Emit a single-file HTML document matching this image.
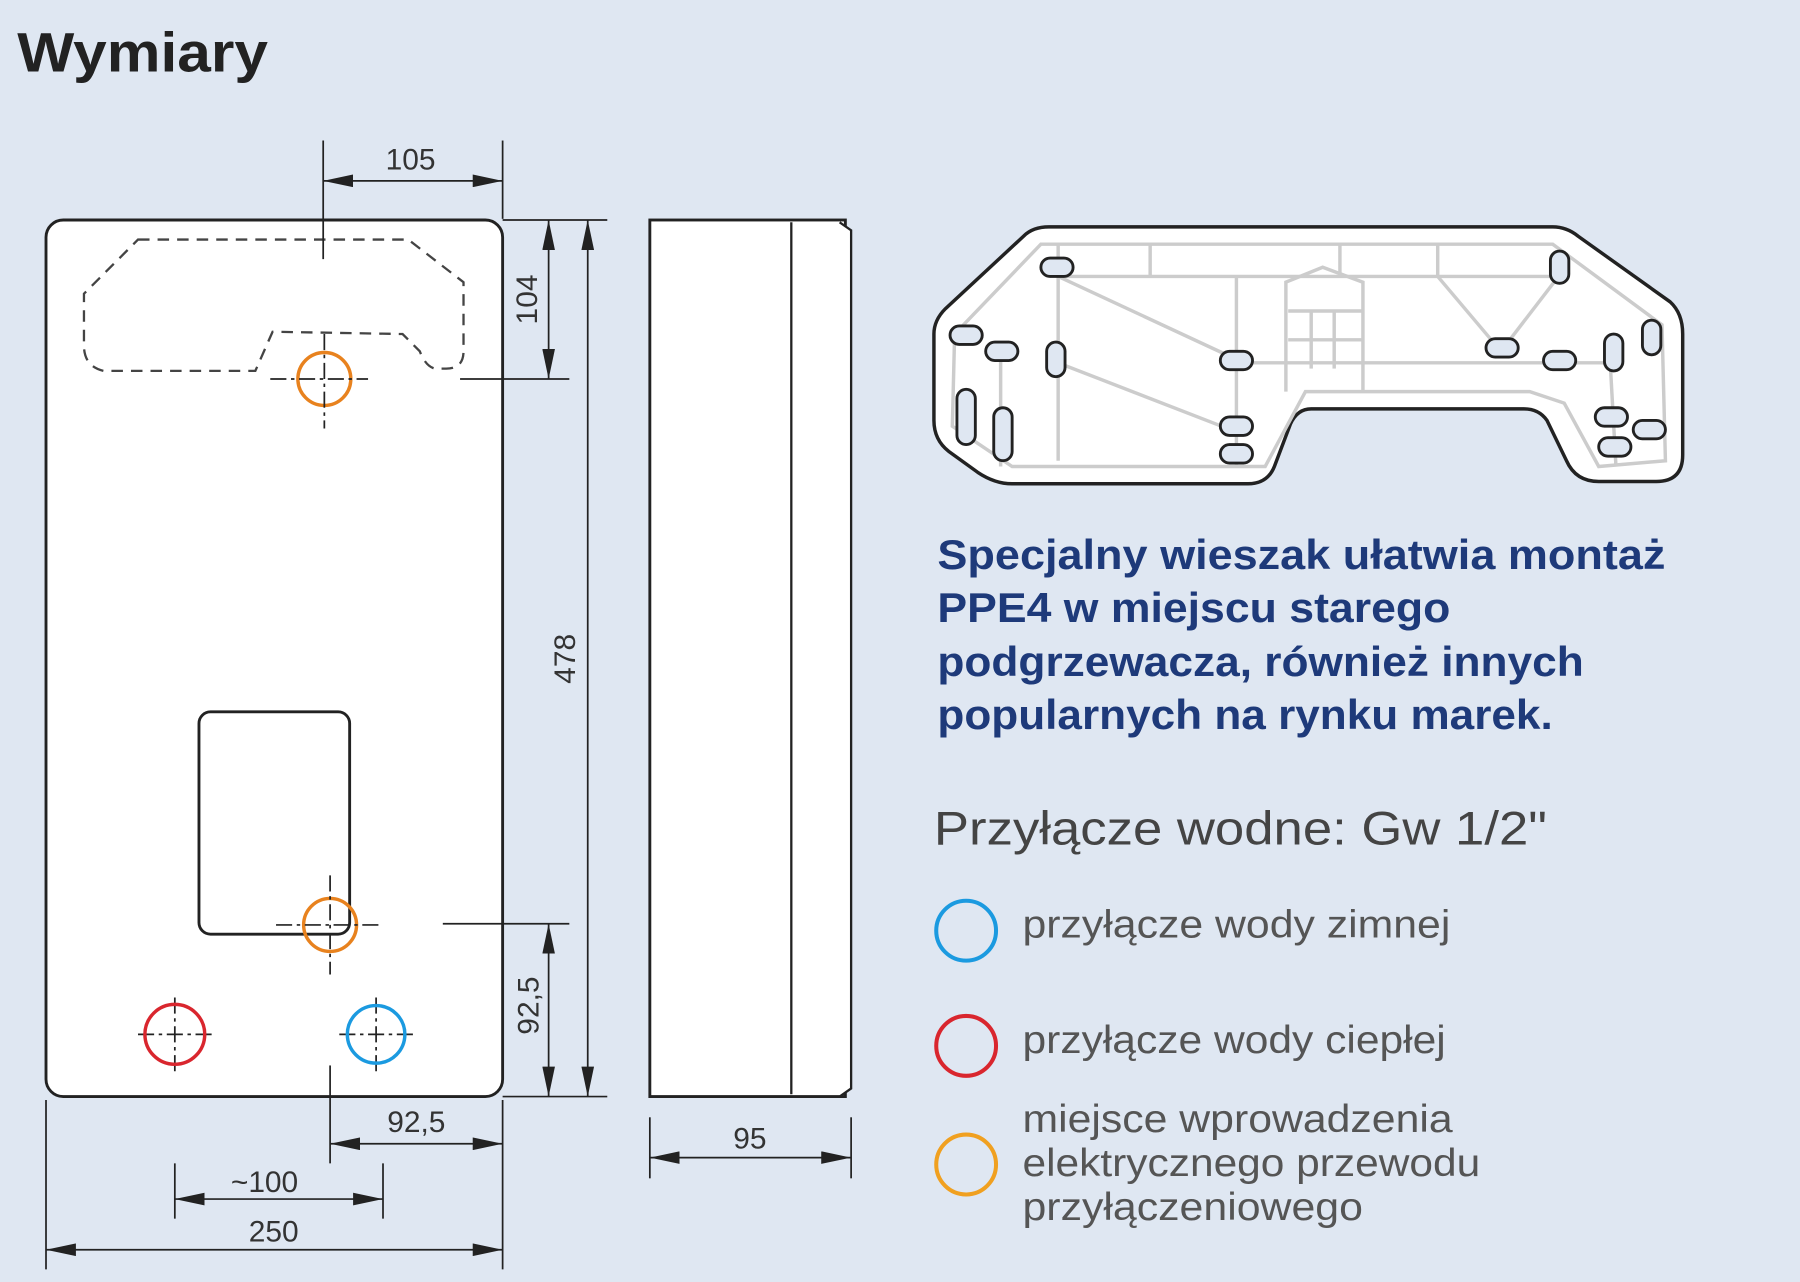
<!DOCTYPE html>
<html><head><meta charset="utf-8"><style>
html,body{margin:0;padding:0;background:#dfe7f2;}
svg{display:block}
text{font-family:"Liberation Sans",sans-serif}
</style></head><body>
<svg width="1800" height="1282" viewBox="0 0 1565 1113" preserveAspectRatio="none" xmlns="http://www.w3.org/2000/svg">
<defs>
<marker id="a" viewBox="0 0 10 10" refX="10" refY="5" markerWidth="26" markerHeight="11" markerUnits="userSpaceOnUse" orient="auto-start-reverse" preserveAspectRatio="none"><path d="M0,0 L10,5 L0,10 z" fill="#222"/></marker>
</defs>
<rect width="1565" height="1113" fill="#dfe7f2"/>
<text x="15" y="62" font-size="48" font-weight="bold" fill="#222" textLength="218" lengthAdjust="spacingAndGlyphs">Wymiary</text>

<rect x="40" y="191" width="397" height="761" rx="15" fill="#fff" stroke="#222" stroke-width="2.5"/>
<path d="M120,208 L355,208 L403,245 L403,305 Q403,320 388,320 L378,320 Q370,318 365,305 L350,290 L237,288 L222,322 L90,322 Q73,318 73,300 L73,255 Z" fill="none" stroke="#444" stroke-width="2" stroke-dasharray="10,7"/>
<circle cx="282" cy="329" r="23" fill="none" stroke="#e8821e" stroke-width="3"/>
<g stroke="#222" stroke-width="1.5">
<line x1="235" y1="329" x2="320" y2="329" stroke-dasharray="14,4,3,4"/>
<line x1="282" y1="290" x2="282" y2="372" stroke-dasharray="14,4,3,4"/>
<line x1="281" y1="122" x2="281" y2="225"/>
<line x1="437" y1="122" x2="437" y2="190"/>
<line x1="281" y1="157" x2="437" y2="157" marker-start="url(#a)" marker-end="url(#a)"/>
<line x1="437" y1="191" x2="528" y2="191"/>
<line x1="400" y1="329" x2="495" y2="329"/>
<line x1="477" y1="191" x2="477" y2="329" marker-start="url(#a)" marker-end="url(#a)"/>
<line x1="511" y1="191" x2="511" y2="952" marker-start="url(#a)" marker-end="url(#a)"/>
<line x1="385" y1="802" x2="495" y2="802"/>
<line x1="477" y1="802" x2="477" y2="952" marker-start="url(#a)" marker-end="url(#a)"/>
<line x1="437" y1="952" x2="528" y2="952"/>
<line x1="287" y1="925" x2="287" y2="1010"/>
<line x1="437" y1="955" x2="437" y2="1102"/>
<line x1="40" y1="955" x2="40" y2="1102"/>
<line x1="152" y1="1010" x2="152" y2="1058"/>
<line x1="333" y1="1010" x2="333" y2="1058"/>
<line x1="287" y1="993" x2="437" y2="993" marker-start="url(#a)" marker-end="url(#a)"/>
<line x1="152" y1="1041" x2="333" y2="1041" marker-start="url(#a)" marker-end="url(#a)"/>
<line x1="40" y1="1085" x2="437" y2="1085" marker-start="url(#a)" marker-end="url(#a)"/>
<line x1="565" y1="970" x2="565" y2="1023"/>
<line x1="740" y1="970" x2="740" y2="1023"/>
<line x1="565" y1="1005" x2="740" y2="1005" marker-start="url(#a)" marker-end="url(#a)"/>
</g>
<g font-size="26" fill="#333" text-anchor="middle">
<text x="357" y="147">105</text>
<text x="362" y="983">92,5</text>
<text x="230" y="1035">~100</text>
<text x="238" y="1078">250</text>
<text x="652" y="997">95</text>
<text transform="translate(467,260) rotate(-90)">104</text>
<text transform="translate(500,572) rotate(-90)">478</text>
<text transform="translate(468,873) rotate(-90)">92,5</text>
</g>
<rect x="173" y="618" width="131" height="193" rx="10" fill="#fff" stroke="#222" stroke-width="2.5"/>
<circle cx="287" cy="803" r="23" fill="none" stroke="#e8821e" stroke-width="3"/>
<g stroke="#222" stroke-width="1.5" stroke-dasharray="14,4,3,4">
<line x1="240" y1="803" x2="330" y2="803"/><line x1="287" y1="760" x2="287" y2="846"/>
<line x1="120" y1="898" x2="185" y2="898"/><line x1="152" y1="866" x2="152" y2="930"/>
<line x1="295" y1="898" x2="360" y2="898"/><line x1="327" y1="866" x2="327" y2="930"/>
</g>
<circle cx="152" cy="898" r="26" fill="none" stroke="#d9262e" stroke-width="3"/>
<circle cx="327" cy="898" r="25" fill="none" stroke="#1b9ae0" stroke-width="3"/>

<rect x="565" y="191" width="170" height="761" fill="#fff" stroke="#222" stroke-width="2.5"/>
<line x1="688" y1="193" x2="688" y2="950" stroke="#222" stroke-width="2"/>
<path d="M730,193 L740,200 L740,945 L730,952" fill="#fff" stroke="#222" stroke-width="2"/>

<path d="M912,197 L1350,197 Q1362,197 1372,205 L1452,262 Q1463,272 1463,290 L1463,395 Q1463,418 1440,418 L1390,418 Q1370,418 1362,400 L1345,365 Q1338,355 1325,355 L1140,355 Q1128,355 1122,368 L1108,405 Q1102,420 1085,420 L880,420 Q865,420 850,410 L825,392 Q812,382 812,365 L812,290 Q812,278 822,268 L890,205 Q898,197 912,197 Z" fill="#fff" stroke="#222" stroke-width="3"/>
<g fill="none" stroke="#ccc" stroke-width="3">
<path d="M830,290 L905,212 L1350,212 L1445,282 L1448,400 L1390,405 L1360,350 L1330,340 L1135,340 L1100,405 L880,405 L828,370 Z"/>
<line x1="920" y1="212" x2="920" y2="400"/><line x1="1075" y1="240" x2="1075" y2="405"/>
<line x1="920" y1="240" x2="1350" y2="240"/><line x1="920" y1="240" x2="1075" y2="312"/>
<line x1="920" y1="315" x2="1075" y2="375"/><line x1="1075" y1="315" x2="1405" y2="315"/>
<line x1="1250" y1="240" x2="1305" y2="305"/><line x1="1355" y1="240" x2="1305" y2="305"/>
<line x1="1000" y1="212" x2="1000" y2="240"/><line x1="1165" y1="212" x2="1165" y2="240"/><line x1="1250" y1="212" x2="1250" y2="240"/>
<path d="M1118,340 L1118,245 L1150,232 L1185,245 L1185,340"/>
<line x1="1120" y1="270" x2="1185" y2="270"/><line x1="1120" y1="295" x2="1185" y2="295"/>
<line x1="1140" y1="270" x2="1140" y2="320"/><line x1="1160" y1="270" x2="1160" y2="320"/>
<line x1="870" y1="300" x2="870" y2="405"/><line x1="1400" y1="315" x2="1405" y2="405"/>
</g>
<g fill="#dfe7f2" stroke="#222" stroke-width="2.5">
<rect x="905" y="224" width="28" height="16" rx="8"/>
<rect x="1348" y="218" width="16" height="28" rx="8"/>
<rect x="826" y="283" width="28" height="16" rx="8"/>
<rect x="857" y="297" width="28" height="16" rx="8"/>
<rect x="910" y="297" width="16" height="30" rx="8"/>
<rect x="1061" y="305" width="28" height="16" rx="8"/>
<rect x="1292" y="294" width="28" height="16" rx="8"/>
<rect x="1342" y="305" width="28" height="16" rx="8"/>
<rect x="1395" y="290" width="16" height="32" rx="8"/>
<rect x="1428" y="278" width="16" height="30" rx="8"/>
<rect x="832" y="338" width="16" height="48" rx="8"/>
<rect x="864" y="354" width="16" height="46" rx="8"/>
<rect x="1061" y="362" width="28" height="16" rx="8"/>
<rect x="1061" y="386" width="28" height="16" rx="8"/>
<rect x="1387" y="354" width="28" height="16" rx="8"/>
<rect x="1420" y="365" width="28" height="16" rx="8"/>
<rect x="1390" y="380" width="28" height="16" rx="8"/>
</g>

<g font-size="36" font-weight="bold" fill="#1e3a7a" lengthAdjust="spacingAndGlyphs">
<text x="815" y="494" textLength="633" lengthAdjust="spacingAndGlyphs">Specjalny wieszak ułatwia montaż</text>
<text x="815" y="540" textLength="446" lengthAdjust="spacingAndGlyphs">PPE4 w miejscu starego</text>
<text x="815" y="587" textLength="562" lengthAdjust="spacingAndGlyphs">podgrzewacza, również innych</text>
<text x="815" y="633" textLength="535" lengthAdjust="spacingAndGlyphs">popularnych na rynku marek.</text>
</g>
<text x="812" y="733" font-size="41" fill="#444" textLength="533" lengthAdjust="spacingAndGlyphs">Przyłącze wodne: Gw 1/2"</text>
<circle cx="840" cy="808" r="26" fill="none" stroke="#1b9ae0" stroke-width="3.5"/>
<circle cx="840" cy="908" r="26" fill="none" stroke="#d9262e" stroke-width="3.5"/>
<circle cx="840" cy="1011" r="26" fill="none" stroke="#f0a020" stroke-width="3.5"/>
<g font-size="34" fill="#555">
<text x="889" y="814" textLength="372" lengthAdjust="spacingAndGlyphs">przyłącze wody zimnej</text>
<text x="889" y="914" textLength="368" lengthAdjust="spacingAndGlyphs">przyłącze wody ciepłej</text>
<text x="889" y="983" textLength="374" lengthAdjust="spacingAndGlyphs">miejsce wprowadzenia</text>
<text x="889" y="1021" textLength="398" lengthAdjust="spacingAndGlyphs">elektrycznego przewodu</text>
<text x="889" y="1059" textLength="296" lengthAdjust="spacingAndGlyphs">przyłączeniowego</text>
</g>
</svg>
</body></html>
